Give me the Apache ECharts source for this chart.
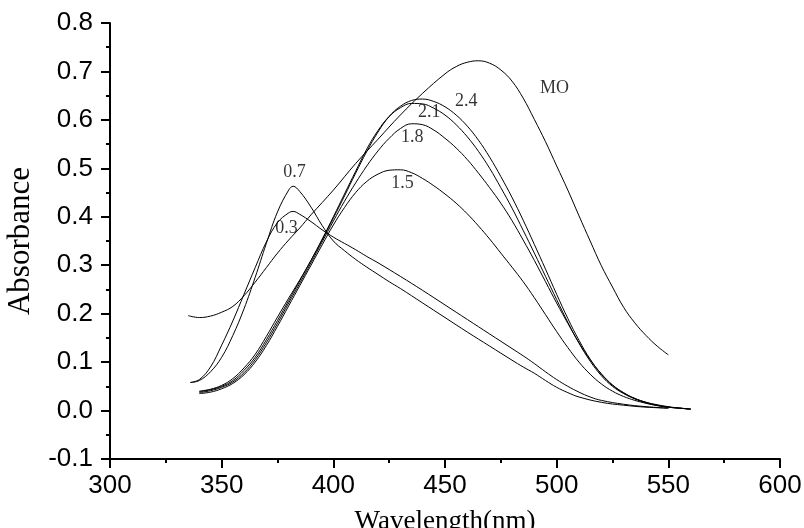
<!DOCTYPE html>
<html>
<head>
<meta charset="utf-8">
<script src="https://cdn.jsdelivr.net/npm/echarts@6/dist/echarts.min.js"></script>
<style>
  html, body { margin: 0; padding: 0; background: #fff; }
  #main { width: 804px; height: 528px; }
</style>
</head>
<body>
<div id="main"></div>
<script>
// absorbance spectra, [wavelength nm, absorbance]
var curveMO = [[335,0.196],[340,0.192],[345,0.195],[350,0.203],[355,0.215],[360,0.237],[365,0.265],[370,0.295],[375,0.325],[380,0.352],[385,0.377],[390,0.404],[400,0.455],[410,0.51],[420,0.56],[430,0.61],[440,0.655],[450,0.695],[455,0.71],[460,0.719],[465,0.722],[470,0.717],[475,0.703],[480,0.68],[485,0.645],[490,0.601],[495,0.555],[500,0.505],[505,0.455],[510,0.402],[515,0.35],[520,0.299],[525,0.255],[530,0.213],[535,0.181],[540,0.155],[545,0.133],[550,0.115]];
var curve24 = [[340,0.040],[345,0.044],[350,0.052],[355,0.066],[360,0.088],[365,0.116],[370,0.153],[375,0.193],[380,0.232],[385,0.27],[390,0.31],[395,0.352],[400,0.397],[405,0.443],[410,0.49],[415,0.535],[420,0.575],[425,0.607],[430,0.628],[435,0.64],[440,0.643],[445,0.638],[450,0.627],[455,0.61],[460,0.587],[465,0.558],[470,0.523],[475,0.483],[480,0.44],[485,0.393],[490,0.343],[495,0.292],[500,0.24],[505,0.19],[510,0.145],[515,0.106],[520,0.075],[525,0.052],[530,0.036],[535,0.025],[540,0.017],[545,0.012],[550,0.008],[555,0.005],[560,0.003]];
var curve21 = [[340,0.039],[345,0.043],[350,0.05],[355,0.062],[360,0.083],[365,0.11],[370,0.146],[375,0.186],[380,0.227],[385,0.268],[390,0.31],[395,0.354],[400,0.4],[405,0.447],[410,0.494],[415,0.54],[420,0.578],[425,0.607],[430,0.625],[435,0.634],[440,0.633],[445,0.624],[450,0.61],[455,0.59],[460,0.565],[465,0.535],[470,0.5],[475,0.46],[480,0.418],[485,0.372],[490,0.325],[495,0.277],[500,0.229],[505,0.182],[510,0.139],[515,0.102],[520,0.072],[525,0.05],[530,0.035],[535,0.024],[540,0.016],[545,0.011],[550,0.007],[555,0.005],[560,0.003]];
var curve18 = [[340,0.037],[345,0.041],[350,0.048],[355,0.059],[360,0.078],[365,0.105],[370,0.14],[375,0.18],[380,0.222],[385,0.263],[390,0.305],[395,0.348],[400,0.391],[405,0.432],[410,0.47],[415,0.505],[420,0.536],[425,0.562],[430,0.582],[435,0.592],[440,0.59],[445,0.579],[450,0.562],[455,0.542],[460,0.518],[465,0.49],[470,0.46],[475,0.428],[480,0.392],[485,0.352],[490,0.31],[495,0.266],[500,0.222],[505,0.18],[510,0.14],[515,0.105],[520,0.076],[525,0.053],[530,0.037],[535,0.025],[540,0.017],[545,0.011],[550,0.007],[555,0.005],[560,0.003]];
var curve15 = [[340,0.035],[345,0.038],[350,0.045],[355,0.056],[360,0.074],[365,0.1],[370,0.134],[375,0.174],[380,0.216],[385,0.258],[390,0.3],[395,0.342],[400,0.383],[405,0.419],[410,0.45],[415,0.473],[420,0.488],[425,0.496],[430,0.497],[435,0.491],[440,0.479],[445,0.464],[450,0.447],[455,0.428],[460,0.406],[465,0.381],[470,0.354],[475,0.325],[480,0.296],[485,0.266],[490,0.233],[495,0.198],[500,0.163],[505,0.13],[510,0.1],[515,0.075],[520,0.055],[525,0.04],[530,0.029],[535,0.021],[540,0.015],[545,0.01],[550,0.007],[555,0.005],[560,0.003]];
var curve07 = [[336,0.058],[340,0.062],[345,0.08],[350,0.11],[355,0.155],[360,0.21],[365,0.275],[370,0.345],[375,0.41],[380,0.455],[382,0.463],[385,0.452],[390,0.42],[395,0.382],[400,0.35],[405,0.33],[410,0.312],[415,0.296],[420,0.281],[425,0.266],[430,0.252],[440,0.222],[450,0.192],[460,0.162],[470,0.133],[480,0.104],[485,0.09],[490,0.077],[495,0.062],[500,0.048],[505,0.037],[510,0.028],[520,0.017],[530,0.011],[540,0.007],[550,0.005]];
var curve03 = [[336,0.058],[340,0.064],[345,0.09],[350,0.135],[355,0.185],[360,0.24],[365,0.295],[370,0.348],[375,0.388],[380,0.408],[382,0.411],[385,0.405],[390,0.39],[395,0.373],[400,0.358],[405,0.345],[410,0.332],[415,0.318],[420,0.305],[430,0.277],[440,0.248],[450,0.218],[460,0.188],[470,0.158],[480,0.128],[485,0.113],[490,0.097],[495,0.08],[500,0.064],[505,0.05],[510,0.038],[515,0.028],[520,0.021],[530,0.013],[540,0.008],[550,0.005]];

var curveNames = ['MO', '2.4', '2.1', '1.8', '1.5', '0.7', '0.3'];
var curveData = [curveMO, curve24, curve21, curve18, curve15, curve07, curve03];
// where each curve label sits, [wavelength, absorbance, text]
var curveLabels = [[499,0.665,'MO'],[459.5,0.638,'2.4'],[443,0.616,'2.1'],[435.3,0.564,'1.8'],[431,0.469,'1.5'],[382.6,0.492,'0.7'],[379,0.376,'0.3']];

var myChart = echarts.init(document.getElementById('main'));

var series = curveData.map(function (d, i) {
    return {
        name: curveNames[i],
        type: 'line',
        data: d,
        showSymbol: false,
        smooth: 0.4,
        lineStyle: { color: '#000', width: 1 },
        silent: true
    };
});
series.push({
    name: 'labels',
    type: 'scatter',
    data: curveLabels,
    symbolSize: 0,
    silent: true,
    label: {
        show: true,
        position: 'inside',
        formatter: function (p) { return p.value[2]; },
        color: '#000',
        fontFamily: 'Liberation Serif',
        fontSize: 18
    }
});

option = {
    animation: false,
    backgroundColor: '#fff',
    grid: { left: 110, right: 24, top: 23, bottom: 69, containLabel: false, outerBoundsMode: 'none' },
    xAxis: {
        type: 'value',
        min: 300,
        max: 600,
        interval: 50,
        name: 'Wavelength(nm)',
        nameLocation: 'middle',
        nameGap: 49,
        nameTextStyle: { fontFamily: 'Liberation Serif', fontSize: 27, color: '#000' },
        axisLine: { show: true, onZero: false, lineStyle: { color: '#000', width: 2 } },
        axisTick: { show: true, length: 9, lineStyle: { color: '#000', width: 2 } },
        minorTick: { show: true, splitNumber: 2, length: 4, lineStyle: { color: '#000', width: 2 } },
        axisLabel: { fontFamily: 'Liberation Sans', fontSize: 26, color: '#000', margin: 14 },
        splitLine: { show: false }
    },
    yAxis: {
        type: 'value',
        min: -0.1,
        max: 0.8,
        interval: 0.1,
        name: 'Absorbance',
        nameLocation: 'middle',
        nameGap: 74,
        nameTextStyle: { fontFamily: 'Liberation Serif', fontSize: 31, color: '#000' },
        axisLine: { show: true, onZero: false, lineStyle: { color: '#000', width: 2 } },
        axisTick: { show: true, length: 9, lineStyle: { color: '#000', width: 2 } },
        minorTick: { show: true, splitNumber: 2, length: 4, lineStyle: { color: '#000', width: 2 } },
        axisLabel: {
            fontFamily: 'Liberation Sans', fontSize: 26, color: '#000', margin: 17,
            formatter: function (v) { return v.toFixed(1); }
        },
        splitLine: { show: false }
    },
    series: series
};

myChart.setOption(option);
</script>
</body>
</html>
